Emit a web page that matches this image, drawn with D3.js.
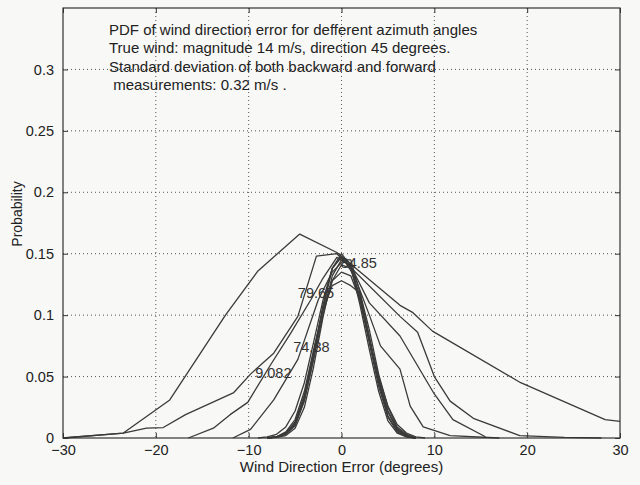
<!DOCTYPE html>
<html><head><meta charset="utf-8">
<script src="https://cdn.jsdelivr.net/npm/d3@7"></script>
<style>
html,body{margin:0;padding:0;background:#f8f8f6;}
svg{display:block;font-family:"Liberation Sans",Arial,Helvetica,sans-serif;}
</style></head><body>
<svg id="chart" width="640" height="485"></svg>
<script>
// ---- data ----
const xTicks = [-30, -20, -10, 0, 10, 20, 30];
const xTickLabels = ["\u221230", "\u221220", "\u221210", "0", "10", "20", "30"];
const yTicks = [0, 0.05, 0.1, 0.15, 0.2, 0.25, 0.3];
const yTickLabels = ["0", "0.05", "0.1", "0.15", "0.2", "0.25", "0.3"];

// widest curve
const c1X = [-30, -23.5, -18.5, -12.5, -9, -4.5, -0.5, 6.3, 7.7, 9.8, 19.3, 28.4, 30];
const c1Y = [0, 0.004, 0.031, 0.100, 0.136, 0.166, 0.151, 0.108, 0.102, 0.087, 0.045, 0.015, 0.0135];
// second widest
const c2X = [-30, -23.5, -21, -19.2, -16.8, -11.6, -9.8, -7.3, -4.7, -2.7, -0.5, 6.3, 8.2, 10, 11.7, 14.2, 19.2, 24, 28];
const c2Y = [0, 0.004, 0.008, 0.0085, 0.019, 0.037, 0.052, 0.069, 0.099, 0.148, 0.150, 0.099, 0.086, 0.050, 0.030, 0.016, 0.002, 0.0005, 0];
// medium curves
const m1X = [-16.5, -13.8, -12, -10.1, -7.6, -5.5, -3.3, -2, -0.5, 1, 3, 6.3, 7.4, 9.9, 12, 15.5];
const m1Y = [0, 0.008, 0.019, 0.029, 0.060, 0.085, 0.1125, 0.130, 0.147, 0.140, 0.110, 0.083, 0.069, 0.037, 0.015, 0.001];
const m2X = [-11.7, -9.8, -7.3, -4.7, -2.5, -1, 0.3, 1.5, 3, 4.2, 6.3, 7.4, 8.8, 11.7, 17];
const m2Y = [0, 0.007, 0.031, 0.064, 0.1125, 0.135, 0.145, 0.130, 0.100, 0.075, 0.056, 0.026, 0.009, 0.002, 0];
// narrow bundle
const narrowX = [-8, -7, -6, -5, -4, -3, -2, -1, 0, 1, 2, 3, 4, 5, 6, 7, 8];
const n1Y = [0, 0.001, 0.003, 0.010, 0.030, 0.065, 0.105, 0.138, 0.150, 0.140, 0.108, 0.072, 0.038, 0.014, 0.004, 0.001, 0];
const n2Y = [0, 0.001, 0.004, 0.012, 0.033, 0.068, 0.108, 0.138, 0.147, 0.142, 0.112, 0.077, 0.042, 0.017, 0.005, 0.001, 0];
const n3Y = [0, 0.0005, 0.002, 0.008, 0.025, 0.058, 0.098, 0.132, 0.145, 0.145, 0.118, 0.082, 0.045, 0.018, 0.006, 0.0015, 0];
const n4Y = [0, 0.001, 0.003, 0.011, 0.031, 0.064, 0.100, 0.128, 0.141, 0.138, 0.115, 0.082, 0.047, 0.021, 0.007, 0.002, 0];
const n5Y = [0, 0.001, 0.004, 0.013, 0.035, 0.070, 0.105, 0.128, 0.135, 0.132, 0.112, 0.080, 0.048, 0.022, 0.008, 0.002, 0];
const n6Y = [0, 0.001, 0.005, 0.015, 0.038, 0.072, 0.104, 0.124, 0.128, 0.124, 0.118, 0.088, 0.052, 0.025, 0.009, 0.003, 0];
const n7X = [-9, -8, -7, -6, -5, -4, -3, -2, -1, 0, 1, 2, 3, 4, 5, 6, 7, 8, 9];
const n7Y = [0, 0.001, 0.003, 0.009, 0.022, 0.045, 0.078, 0.112, 0.138, 0.148, 0.138, 0.112, 0.080, 0.050, 0.026, 0.011, 0.004, 0.001, 0];

const curveLabels = ["84.85", "79.65", "74.38", "9.082"];
const curveLabelX = [-0.1, -4.7, -5.2, -9.3];
const curveLabelY = [0.1385, 0.114, 0.0703, 0.049];

const titleLines = [
  "PDF of wind direction error for defferent azimuth angles",
  "True wind: magnitude 14 m/s, direction 45 degrees.",
  "Standard deviation of both backward and forward",
  " measurements: 0.32 m/s ."
];
const xLabel = "Wind Direction Error (degrees)";
const yLabel = "Probability";

// ---- drawing ----
const L = 63, R = 620, T = 8, B = 438;
const svg = d3.select("#chart");
const x = d3.scaleLinear().domain([-30, 30]).range([L, R]);
const y = d3.scaleLinear().domain([0, 0.35]).range([B, T]);

// grid
const grid = svg.append("g").attr("stroke", "#444").attr("stroke-width", 0.9).attr("stroke-dasharray", "1,3");
grid.selectAll("line.gx").data(xTicks.filter(v => v > -30 && v < 30)).join("line")
  .attr("x1", d => x(d)).attr("x2", d => x(d)).attr("y1", T).attr("y2", B);
grid.selectAll("line.gy").data(yTicks.filter(v => v > 0)).join("line")
  .attr("x1", L).attr("x2", R).attr("y1", d => y(d)).attr("y2", d => y(d));

// curves
const curves = [
  [c1X, c1Y], [c2X, c2Y], [m1X, m1Y], [m2X, m2Y],
  [narrowX, n1Y], [narrowX, n2Y], [narrowX, n3Y], [narrowX, n4Y], [narrowX, n5Y], [narrowX, n6Y], [n7X, n7Y]
];
const line = d3.line().x(d => x(d[0])).y(d => y(d[1]));
svg.append("g").selectAll("path").data(curves).join("path")
  .attr("d", c => line(c[0].map((v, i) => [v, c[1][i]])))
  .attr("fill", "none").attr("stroke", "#3a3a3a").attr("stroke-width", 1.3).attr("stroke-linejoin", "round");

// axes
const fmtX = (d) => xTickLabels[xTicks.indexOf(d)];
const fmtY = (d) => yTickLabels[yTicks.indexOf(d)];
const axB = svg.append("g").attr("transform", `translate(0,${B})`)
  .call(d3.axisBottom(x).tickValues(xTicks).tickSize(-5).tickPadding(7).tickFormat(fmtX));
const axT = svg.append("g").attr("transform", `translate(0,${T})`)
  .call(d3.axisTop(x).tickValues(xTicks).tickSize(-5).tickFormat(""));
const axL = svg.append("g").attr("transform", `translate(${L},0)`)
  .call(d3.axisLeft(y).tickValues(yTicks).tickSize(-5).tickPadding(9).tickFormat(fmtY));
const axR = svg.append("g").attr("transform", `translate(${R},0)`)
  .call(d3.axisRight(y).tickValues(yTicks).tickSize(-5).tickFormat(""));
[axB, axT, axL, axR].forEach(a => {
  a.select(".domain").remove();
  a.selectAll("line").attr("stroke", "#333").attr("stroke-width", 1);
  a.selectAll("text").attr("font-size", 14.5).attr("fill", "#222")
    .attr("font-family", "'Liberation Sans',Arial,sans-serif");
});
svg.append("rect").attr("x", L).attr("y", T).attr("width", R - L).attr("height", B - T)
  .attr("fill", "none").attr("stroke", "#333").attr("stroke-width", 1.2);

// curve labels
svg.append("g").selectAll("text").data(curveLabels).join("text")
  .attr("x", (d, i) => x(curveLabelX[i])).attr("y", (d, i) => y(curveLabelY[i]))
  .attr("font-size", 14.5).attr("fill", "#333").text(d => d);

// annotation text
svg.append("g").selectAll("text").data(titleLines).join("text")
  .attr("x", 109).attr("y", (d, i) => 35 + i * 18.3)
  .attr("font-size", 15).attr("fill", "#222").attr("xml:space", "preserve")
  .style("white-space", "pre").text(d => d);

svg.append("text").attr("x", x(0)).attr("y", 472).attr("text-anchor", "middle")
  .attr("font-size", 15).attr("fill", "#222").text(xLabel);
svg.append("text").attr("transform", `translate(22,214) rotate(-90)`)
  .attr("text-anchor", "middle").attr("font-size", 14).attr("fill", "#222").text(yLabel);
</script>
</body></html>
